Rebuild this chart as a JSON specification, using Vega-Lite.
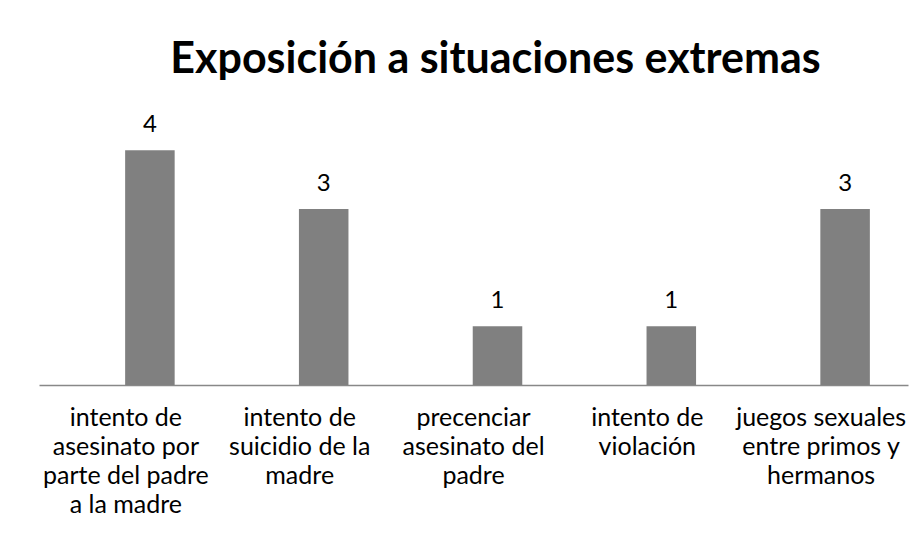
{
  "$schema": "https://vega.github.io/schema/vega-lite/v6.json",
  "width": 869,
  "height": 264,
  "autosize": "none",
  "padding": {"left": 39, "top": 121, "right": 15, "bottom": 160},
  "background": "white",
  "title": {
    "text": "Exposición a situaciones extremas",
    "font": "Lato",
    "fontSize": 43,
    "fontWeight": "bold",
    "color": "#000000",
    "anchor": "middle",
    "dx": 22,
    "baseline": "alphabetic",
    "offset": -3
  },
  "data": {
    "values": [
      {"cat": "intento de|asesinato por|parte del padre|a la madre", "value": 4},
      {"cat": "intento de|suicidio de la|madre", "value": 3},
      {"cat": "precenciar|asesinato del|padre", "value": 1},
      {"cat": "intento de|violación", "value": 1},
      {"cat": "juegos sexuales|entre primos y|hermanos", "value": 3}
    ]
  },
  "encoding": {
    "x": {
      "field": "cat",
      "type": "nominal",
      "sort": null,
      "scale": {"paddingInner": 0, "paddingOuter": 0},
      "axis": {
        "title": null,
        "labelAngle": 0,
        "labelExpr": "split(datum.label, '|')",
        "labelFont": "Lato",
        "labelFontSize": 25,
        "labelColor": "#000000",
        "labelLineHeight": 29,
        "labelPadding": 20,
        "labelLimit": 0,
        "ticks": false,
        "domainColor": "#888888",
        "domainWidth": 1.5,
        "grid": false
      }
    },
    "y": {
      "field": "value",
      "type": "quantitative",
      "scale": {"domain": [0, 4.5], "nice": false},
      "axis": null
    }
  },
  "layer": [
    {
      "mark": {"type": "bar", "color": "#808080", "width": {"band": 0.285}, "xOffset": 24}
    },
    {
      "mark": {"type": "text", "font": "Lato", "fontSize": 24, "color": "#000000", "baseline": "alphabetic", "dy": -18, "xOffset": 24},
      "encoding": {"text": {"field": "value", "type": "quantitative"}}
    }
  ],
  "config": {"view": {"stroke": null}}
}
